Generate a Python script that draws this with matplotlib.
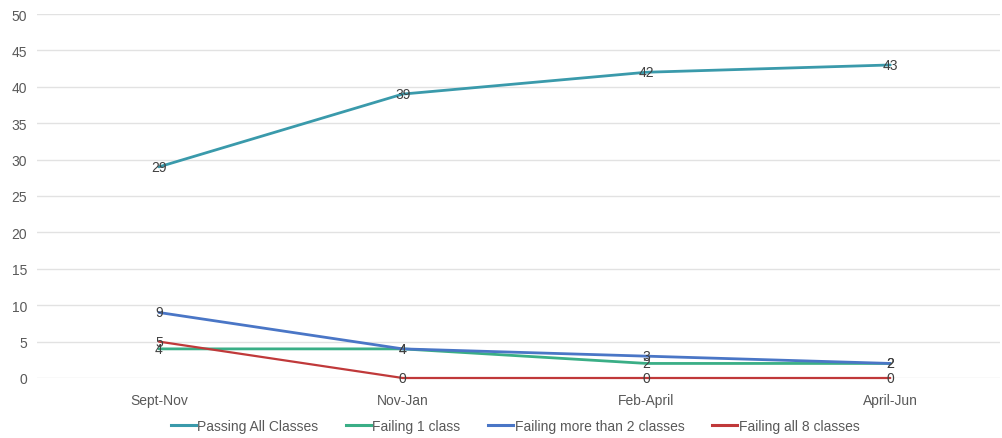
import matplotlib
matplotlib.use("Agg")
import matplotlib.pyplot as plt
from matplotlib.lines import Line2D

periods = ["Sept-Nov", "Nov-Jan", "Feb-April", "April-Jun"]
passing_all = [29, 39, 42, 43]
failing_one = [4, 4, 2, 2]
failing_more_than_two = [9, 4, 3, 2]
failing_all_eight = [5, 0, 0, 0]

series_names = ["Passing All Classes", "Failing 1 class",
                "Failing more than 2 classes", "Failing all 8 classes"]
series_values = [passing_all, failing_one, failing_more_than_two, failing_all_eight]
series_colors = ["#3a9aab", "#3aae86", "#4a76c6", "#c0393a"]
series_widths = [2.0, 2.0, 2.0, 1.6]

y_ticks = [0, 5, 10, 15, 20, 25, 30, 35, 40, 45, 50]

plt.rcParams["font.family"] = ["Liberation Sans", "DejaVu Sans"]

fig = plt.figure(figsize=(10.03, 4.39), dpi=100)
ax = fig.add_axes([37 / 1003, 60 / 439, 963 / 1003, 364 / 439])

x = list(range(len(periods)))
handles = []
for name, vals, col, lw in zip(series_names, series_values, series_colors, series_widths):
    ax.plot(x, vals, color=col, lw=lw, solid_joinstyle="round",
            solid_capstyle="round", zorder=3, clip_on=False)
    for xi, v in zip(x, vals):
        ax.text(xi, v, str(v), ha="center", va="center", fontsize=10,
                color="#404040", zorder=4)
    handles.append(Line2D([0], [0], color=col, lw=2.2))

ax.set_xlim(-0.5, 3.45)
ax.set_ylim(0, 50)
ax.set_yticks(y_ticks)
ax.set_xticks(x)
ax.set_xticklabels(periods)
ax.tick_params(axis="both", length=0, labelsize=10, colors="#595959")
ax.tick_params(axis="x", pad=11)
ax.tick_params(axis="y", pad=7)
ax.grid(axis="y", color="#e2e2e2", lw=1.0, zorder=0)
for sp in ax.spines.values():
    sp.set_visible(False)

fig.legend(handles, series_names, loc="center", bbox_to_anchor=(515 / 1003, 1 - 427 / 439),
           ncol=4, frameon=False, fontsize=10, labelcolor="#595959",
           handlelength=1.8, handletextpad=0.1, columnspacing=2.0)

fig.savefig("out.png", dpi=100, facecolor="white")
